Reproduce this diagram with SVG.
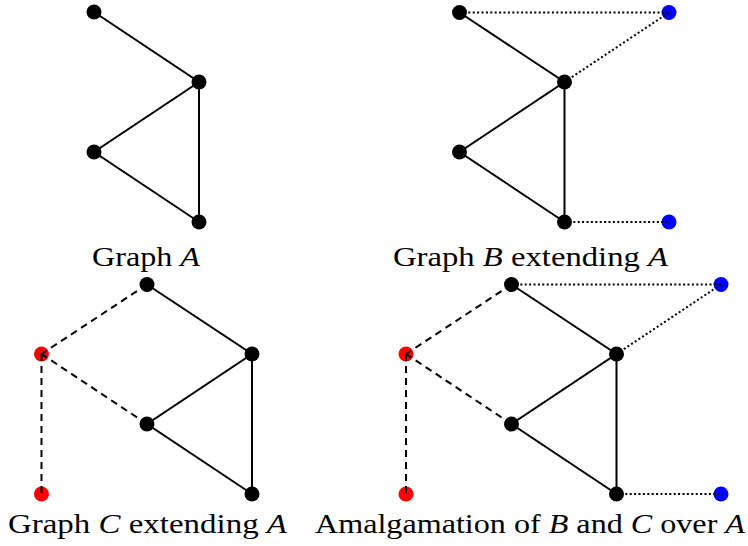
<svg xmlns="http://www.w3.org/2000/svg" width="748" height="546" viewBox="0 0 748 546">
<style>
.n{fill:#000}
.r{fill:#ff0000}
.b{fill:#0000ff}
.s{stroke:#000;stroke-width:2;fill:none}
.d{stroke:#000;stroke-width:2;fill:none;stroke-dasharray:7,5}
.o{stroke:#000;stroke-width:2;fill:none;stroke-dasharray:2,2.4}
.t{font-family:'Liberation Serif','Times New Roman',serif;font-size:27px;fill:#000}
.i{font-style:italic}
</style>
<rect width="748" height="546" fill="#fff"/>
<g id="nodes">
<g id="A1"><circle class="n" cx="94" cy="12" r="7.5"/></g>
<g id="A2"><circle class="n" cx="199" cy="82" r="7.5"/></g>
<g id="A3"><circle class="n" cx="94" cy="152" r="7.5"/></g>
<g id="A4"><circle class="n" cx="199" cy="222" r="7.5"/></g>
<g id="B1"><circle class="n" cx="459.5" cy="12.5" r="7.5"/></g>
<g id="B2"><circle class="n" cx="564.5" cy="82" r="7.5"/></g>
<g id="B3"><circle class="n" cx="459.5" cy="152" r="7.5"/></g>
<g id="B4"><circle class="n" cx="564.5" cy="222" r="7.5"/></g>
<g id="B5"><circle class="b" cx="669" cy="12.5" r="7.5"/></g>
<g id="B6"><circle class="b" cx="669" cy="222" r="7.5"/></g>
<g id="C1"><circle class="n" cx="147" cy="284.5" r="7.5"/></g>
<g id="C2"><circle class="n" cx="252" cy="354" r="7.5"/></g>
<g id="C3"><circle class="n" cx="147" cy="424" r="7.5"/></g>
<g id="C4"><circle class="n" cx="252" cy="494" r="7.5"/></g>
<g id="C5"><circle class="r" cx="41.5" cy="354" r="7.5"/></g>
<g id="C6"><circle class="r" cx="41.5" cy="494" r="7.5"/></g>
<g id="D1"><circle class="n" cx="511.5" cy="284.5" r="7.5"/></g>
<g id="D2"><circle class="n" cx="616.5" cy="354" r="7.5"/></g>
<g id="D3"><circle class="n" cx="511.5" cy="424" r="7.5"/></g>
<g id="D4"><circle class="n" cx="616.5" cy="494" r="7.5"/></g>
<g id="D5"><circle class="r" cx="406" cy="354" r="7.5"/></g>
<g id="D6"><circle class="r" cx="406" cy="494" r="7.5"/></g>
<g id="D7"><circle class="b" cx="721" cy="284.5" r="7.5"/></g>
<g id="D8"><circle class="b" cx="721" cy="494" r="7.5"/></g>
</g>
<g id="connectors">
<path class="s" d="M94,12L199,82L94,152L199,222L199,82"/>
<path class="s" d="M459.5,12.5L564.5,82L459.5,152L564.5,222L564.5,82"/>
<path class="o" d="M459.5,12.5H669M564.5,82L669,12.5M564.5,222H669"/>
<path class="s" d="M147,284.5L252,354L147,424L252,494L252,354"/>
<path class="d" d="M147,284.5L41.5,354M147,424L41.5,354M41.5,354V494"/>
<path class="s" d="M511.5,284.5L616.5,354L511.5,424L616.5,494L616.5,354"/>
<path class="d" d="M511.5,284.5L406,354M511.5,424L406,354M406,354V494"/>
<path class="o" d="M511.5,284.5H721M616.5,354L721,284.5M616.5,494H721"/>
</g>
<g id="labels">
<text class="t" x="92" y="266" textLength="108" lengthAdjust="spacingAndGlyphs">Graph <tspan class="i">A</tspan></text>
<text class="t" x="393" y="266" textLength="275" lengthAdjust="spacingAndGlyphs">Graph <tspan class="i">B</tspan> extending <tspan class="i">A</tspan></text>
<text class="t" x="8" y="533" textLength="279" lengthAdjust="spacingAndGlyphs">Graph <tspan class="i">C</tspan> extending <tspan class="i">A</tspan></text>
<text class="t" x="315" y="533" textLength="430" lengthAdjust="spacingAndGlyphs">Amalgamation of <tspan class="i">B</tspan> and <tspan class="i">C</tspan> over <tspan class="i">A</tspan></text>
</g>
</svg>
